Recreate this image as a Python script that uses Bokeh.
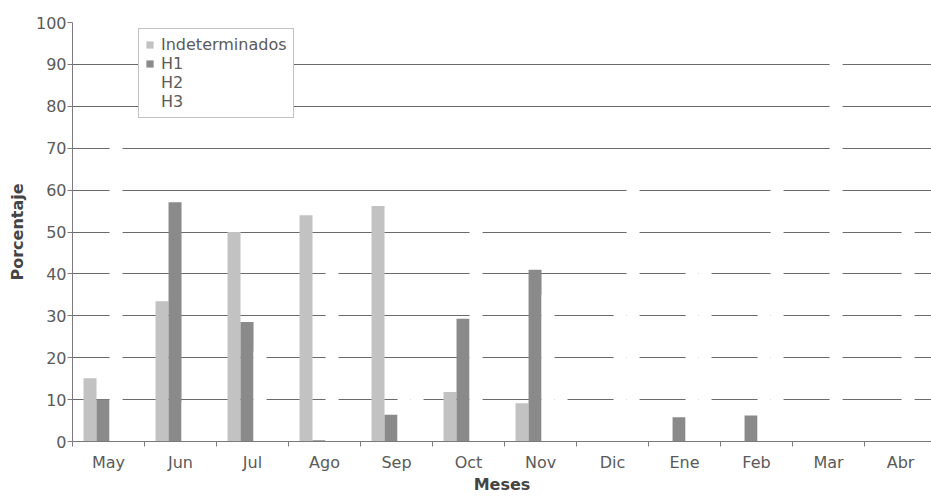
from bokeh.plotting import figure
from bokeh.models import Range1d, FixedTicker, Legend, LegendItem, ColumnDataSource
from bokeh.embed import file_html
from bokeh.resources import INLINE

# ---- data ----
months = ["May", "Jun", "Jul", "Ago", "Sep", "Oct", "Nov", "Dic", "Ene", "Feb", "Mar", "Abr"]
indeterminados = [15.1, 33.5, 50.0, 54.0, 56.2, 11.8, 9.1, 0, 0, 0, 0, 0]
h1 = [10.0, 57.1, 28.5, 0.3, 6.4, 29.3, 41.0, 0, 5.8, 6.2, 0, 0]
h2 = [75.0, 9.4, 21.5, 46.0, 18.5, 59.0, 35.0, 35.0, 47.0, 32.0, 98.0, 55.0]
h3 = [0, 0, 0, 0, 19.0, 0, 15.0, 65.0, 47.0, 61.5, 0, 0]
series_names = ["Indeterminados", "H1", "H2", "H3"]
y_ticks = [0, 10, 20, 30, 40, 50, 60, 70, 80, 90, 100]

# ---- style ----
series_values = [indeterminados, h1, h2, h3]
series_colors = ["#c2c2c2", "#8a8a8a", "#ffffff", "#ffffff"]
bar_w = 0.1806
group_start = 0.153
FONT = "DejaVu Sans"
TXT = "#5a5a5a"
LINE = "#7a7a7a"

n = len(months)
p = figure(width=931, height=496,
           x_range=Range1d(0, 11.93), y_range=Range1d(0, 100),
           output_backend="svg", toolbar_location=None,
           min_border_left=72, min_border_right=0,
           min_border_top=22, min_border_bottom=55)
p.outline_line_color = None
p.background_fill_color = "white"
p.border_fill_color = "white"

items = []
for k, (name, vals, col) in enumerate(zip(series_names, series_values, series_colors)):
    xs = [i + group_start + (k + 0.5) * bar_w for i in range(n)]
    src = ColumnDataSource(dict(x=xs, top=vals, month=months))
    r = p.vbar(x="x", top="top", width=bar_w, source=src,
               fill_color=col, line_color=None)
    items.append(LegendItem(label=name, renderers=[r]))

legend = Legend(items=items, location=(66, 323),
                label_text_font=FONT, label_text_font_size="16px",
                label_text_color=TXT,
                glyph_width=9, glyph_height=9, label_height=16,
                label_standoff=7, spacing=0, padding=6, margin=0,
                border_line_color="#888888", border_line_width=1,
                background_fill_color="white", background_fill_alpha=1.0)
p.add_layout(legend)

# x axis
centers = [i + 0.5 for i in range(n)]
xa = p.xaxis[0]
xa.ticker = FixedTicker(ticks=centers, minor_ticks=list(range(0, n + 1)))
xa.major_label_overrides = {c: m for c, m in zip(centers, months)}
xa.major_tick_line_color = None
xa.major_tick_in = 0
xa.major_tick_out = 0
xa.minor_tick_in = 0
xa.minor_tick_out = 5
xa.minor_tick_line_color = LINE
xa.axis_line_color = LINE
xa.major_label_text_font = FONT
xa.major_label_text_font_size = "16px"
xa.major_label_text_color = TXT
xa.major_label_standoff = 6
xa.axis_label = "Meses"
xa.axis_label_text_font = FONT
xa.axis_label_text_font_size = "16px"
xa.axis_label_text_font_style = "bold"
xa.axis_label_text_color = "#444444"
xa.axis_label_standoff = 0

# y axis
ya = p.yaxis[0]
ya.ticker = FixedTicker(ticks=y_ticks)
ya.major_tick_in = 0
ya.major_tick_out = 5
ya.major_tick_line_color = LINE
ya.minor_tick_line_color = None
ya.axis_line_color = LINE
ya.major_label_text_font = FONT
ya.major_label_text_font_size = "16px"
ya.major_label_text_color = TXT
ya.major_label_standoff = 1
ya.axis_label = "Porcentaje"
ya.axis_label_text_font = FONT
ya.axis_label_text_font_size = "16px"
ya.axis_label_text_font_style = "bold"
ya.axis_label_text_color = "#444444"
ya.axis_label_standoff = 6

p.xgrid.grid_line_color = None
p.ygrid.ticker = FixedTicker(ticks=y_ticks)
p.ygrid.grid_line_color = "#6a6a6a"
p.ygrid.grid_line_width = 1

open("out.html", "w").write(file_html(p, INLINE))
